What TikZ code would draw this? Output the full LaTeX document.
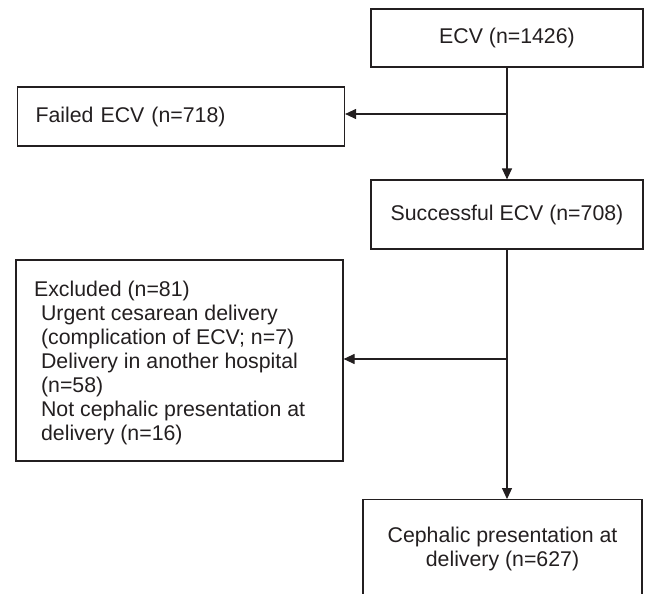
\documentclass[tikz,border=0pt]{standalone}
\usepackage{fontspec}
\setmainfont{Liberation Sans}
\usetikzlibrary{arrows.meta, positioning}
\definecolor{inkgray}{HTML}{231F20}

\begin{document}
\begin{tikzpicture}[x=1pt, y=-1pt,
    box/.style={draw=inkgray, line width=1.2pt, text=inkgray, inner sep=0pt,
        font=\fontsize{21.3}{24}\selectfont},
    flow/.style={draw=inkgray, line width=1.2pt, -{Triangle[length=11pt, width=10pt]}}]
\useasboundingbox (0,0) rectangle (648,594);
\clip (0,0) rectangle (648,594);

% right column
\node[box, minimum width=272pt, minimum height=58pt] (ecv) at (507,38) {ECV (n=1426)};
\node[box, minimum width=272pt, minimum height=69pt] (success) at (507,214.5) {Successful ECV (n=708)};
\node[box, anchor=north, minimum width=279pt, minimum height=99pt, align=center] (ceph) at (502.5,499) {Cephalic presentation at\\delivery (n=627)};

% left column
\node[box, minimum height=59pt, text width=291pt, inner xsep=18pt, align=left] (failed) at (181,116.5) {Failed ECV (n=718)};
\node[box, minimum width=327pt, minimum height=201pt] (excl) at (179.5,360.5) {};
\node[box, draw=none, anchor=north west, align=left] (excltext) at (33.5,280.5) {Excluded (n=81)\\
    \hspace*{7pt}Urgent cesarean delivery\\
    \hspace*{7pt}(complication of ECV; n=7)\\
    \hspace*{7pt}Delivery in another hospital\\
    \hspace*{7pt}(n=58)\\
    \hspace*{7pt}Not cephalic presentation at\\
    \hspace*{7pt}delivery (n=16)};

% connectors
\coordinate (split1) at (507,114);
\coordinate (split2) at (507,359);
\draw[flow] (ecv) -- (success);
\draw[flow] (split1) -- (split1 -| failed.east);
\draw[flow] (success) -- (ceph.north -| success.south);
\draw[flow] (split2) -- (split2 -| excl.east);

\end{tikzpicture}
\end{document}
